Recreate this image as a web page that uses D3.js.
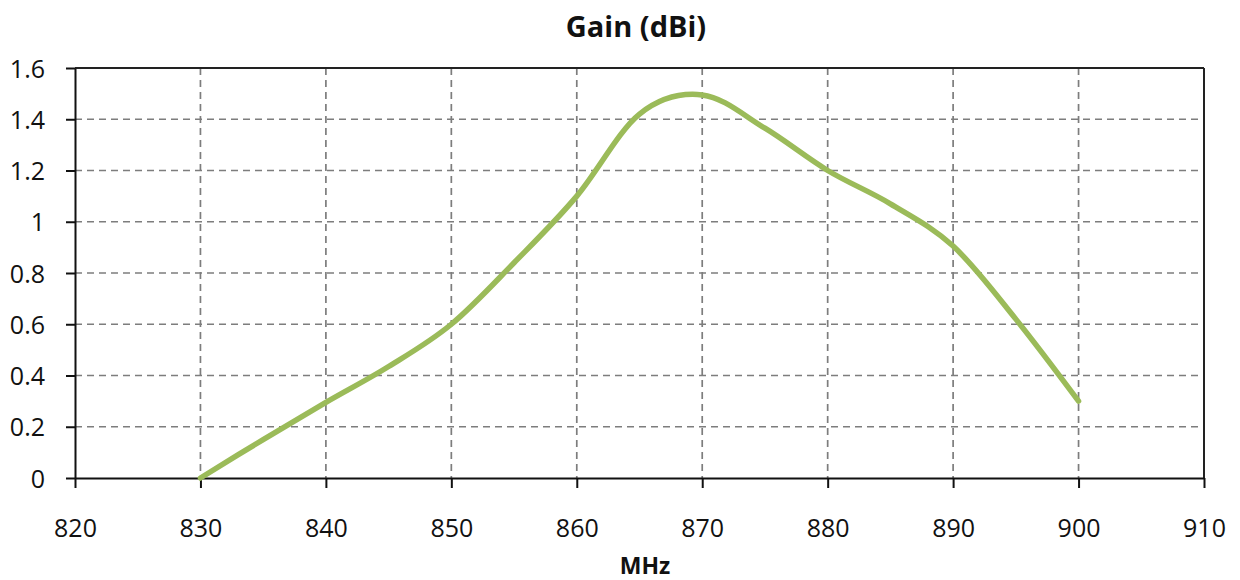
<!DOCTYPE html>
<html>
<head>
<meta charset="utf-8">
<script src="https://cdn.jsdelivr.net/npm/d3@7"></script>
<style>
  html, body { margin: 0; padding: 0; background: #ffffff; }
  svg { display: block; }
</style>
</head>
<body>
<svg id="chart" width="1240" height="580"></svg>
<script>
// ---- data ----
const freqMHz = [830, 835, 840, 845, 850, 855, 860, 865, 870, 875, 880, 885, 890, 895, 900];
const gainDbi = [0, 0.15, 0.295, 0.435, 0.6, 0.84, 1.1, 1.42, 1.495, 1.365, 1.2, 1.07, 0.905, 0.62, 0.3];
const xTicks = [820, 830, 840, 850, 860, 870, 880, 890, 900, 910];
const xTickLabels = ["820", "830", "840", "850", "860", "870", "880", "890", "900", "910"];
const yTicks = [0, 0.2, 0.4, 0.6, 0.8, 1.0, 1.2, 1.4, 1.6];
const yTickLabels = ["0", "0.2", "0.4", "0.6", "0.8", "1", "1.2", "1.4", "1.6"];
const chartTitle = "Gain (dBi)";
const xAxisTitle = "MHz";

(function () {
  // ---- layout ----
  const svg = d3.select("#chart");
  const pL = 75, pR = 1204, pT = 68, pB = 478;
  const x = d3.scaleLinear().domain([820, 910]).range([pL, pR]);
  const y = d3.scaleLinear().domain([0, 1.6]).range([pB, pT]);
  const font = "'Open Sans', 'Noto Sans', sans-serif";

  // grid
  const grid = svg.append("g").attr("stroke", "#7d7d7d").attr("stroke-width", 1.7)
    .attr("stroke-dasharray", "7,5").attr("fill", "none");
  grid.selectAll("line.v").data(xTicks.slice(1, -1)).join("line")
    .attr("class", "v")
    .attr("x1", d => x(d)).attr("x2", d => x(d))
    .attr("y1", pT).attr("y2", pB);
  grid.selectAll("line.h").data(yTicks.slice(1, -1)).join("line")
    .attr("class", "h")
    .attr("x1", pL).attr("x2", pR)
    .attr("y1", d => y(d)).attr("y2", d => y(d));

  // border top/right
  svg.append("line").attr("x1", pL).attr("x2", pR).attr("y1", pT).attr("y2", pT)
    .attr("stroke", "#222").attr("stroke-width", 2);
  svg.append("line").attr("x1", pR).attr("x2", pR).attr("y1", pT).attr("y2", pB)
    .attr("stroke", "#222").attr("stroke-width", 2);

  // axes
  const yAxis = d3.axisLeft(y).tickValues(yTicks)
    .tickFormat((d, i) => yTickLabels[i]).tickSize(9).tickPadding(21).tickSizeOuter(0);
  const gy = svg.append("g").attr("transform", `translate(${pL},0)`).call(yAxis);
  const xAxis = d3.axisBottom(x).tickValues(xTicks)
    .tickFormat((d, i) => xTickLabels[i]).tickSize(10).tickSizeOuter(0);
  const gx = svg.append("g").attr("transform", `translate(0,${pB})`).call(xAxis);

  [gx, gy].forEach(g => {
    g.select(".domain").attr("stroke", "#111").attr("stroke-width", 2);
    g.selectAll(".tick line").attr("stroke", "#111").attr("stroke-width", 2);
    g.selectAll(".tick text").attr("fill", "#111")
      .style("font-family", font).style("font-size", "25px");
  });
  gx.selectAll(".tick text").attr("y", 59).attr("dy", null);
  gy.selectAll(".tick text").attr("dy", "0.36em");

  // line
  const line = d3.line()
    .x((d, i) => x(freqMHz[i]))
    .y(d => y(d))
    .curve(d3.curveCardinal.tension(0));
  svg.append("path")
    .datum(gainDbi)
    .attr("d", line)
    .attr("fill", "none")
    .attr("stroke", "#9bbb59")
    .attr("stroke-width", 5.5)
    .attr("stroke-linecap", "round")
    .attr("stroke-linejoin", "round");

  // titles
  svg.append("text").attr("x", 636).attr("y", 37).attr("text-anchor", "middle")
    .style("font-family", font).style("font-size", "29px").style("font-weight", "bold")
    .attr("fill", "#111").text(chartTitle);
  svg.append("text").attr("x", 645).attr("y", 574).attr("text-anchor", "middle")
    .style("font-family", font).style("font-size", "23px").style("font-weight", "bold")
    .attr("fill", "#111").text(xAxisTitle);
})();
</script>
</body>
</html>
